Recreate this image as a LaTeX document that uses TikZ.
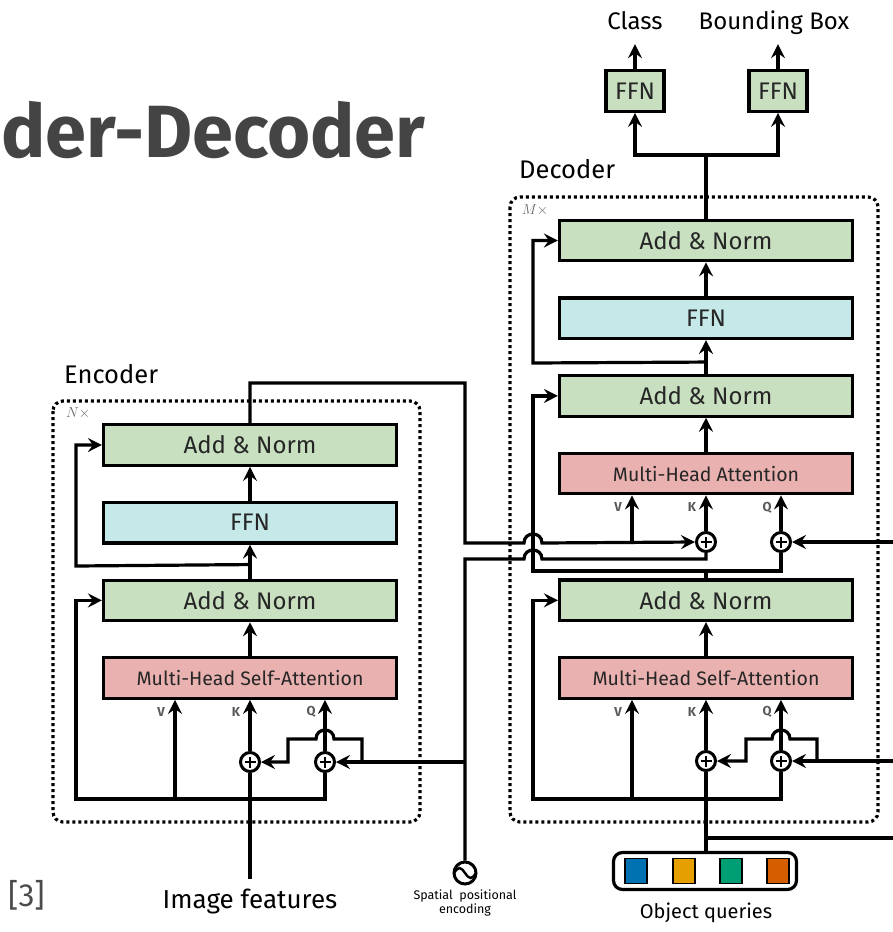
\documentclass[tikz,border=0pt]{standalone}
\usepackage{fontspec}
\setmainfont{Fira Sans}
\usetikzlibrary{arrows.meta, calc, positioning}
\definecolor{normgreen}{RGB}{200,224,192}
\definecolor{ffncyan}{RGB}{197,232,232}
\definecolor{attnpink}{RGB}{233,177,175}
\definecolor{titlegray}{RGB}{68,68,68}
\definecolor{qblue}{RGB}{0,114,178}
\definecolor{qorange}{RGB}{230,159,0}
\definecolor{qgreen}{RGB}{0,158,115}
\definecolor{qred}{RGB}{213,94,0}
\tikzstyle{block} = [rectangle, line width=3.2pt, minimum width=293pt, minimum height=40.5pt, text centered, draw=black, text=black!85, font=\fontsize{24}{28}\selectfont]
\tikzstyle{addnorm} = [block, fill=normgreen]
\tikzstyle{ffn} = [block, fill=ffncyan]
\tikzstyle{attn} = [block, fill=attnpink, font=\fontsize{19.5}{23}\selectfont]
\tikzstyle{head} = [block, fill=normgreen, minimum width=58pt]
\tikzstyle{line} = [line width=3.2pt]
\tikzstyle{arrow} = [line width=3.2pt, -{Stealth[length=14pt, width=14pt, inset=5pt]}]
\tikzstyle{sum} = [circle, draw=black, line width=3pt, fill=white, minimum size=19pt, inner sep=0pt,
  path picture={\draw[line width=2.2pt] ([xshift=-5.5pt]path picture bounding box.center) -- ([xshift=5.5pt]path picture bounding box.center)
    ([yshift=-5.5pt]path picture bounding box.center) -- ([yshift=5.5pt]path picture bounding box.center);}]
\tikzstyle{wave} = [circle, draw=black, line width=3pt, minimum size=22pt, inner sep=0pt,
  path picture={\draw[line width=2.4pt] ([xshift=-11pt]path picture bounding box.center) sin ++(5.5pt,5pt) cos ++(5.5pt,-5pt) sin ++(5.5pt,-5pt) cos ++(5.5pt,5pt);}]
\tikzstyle{stack} = [line width=3.2pt, dash pattern=on 3pt off 3pt, rounded corners=10pt]
\tikzstyle{port} = [font=\fontsize{13}{14}\selectfont\bfseries, text=black!65, inner sep=0pt]
\tikzstyle{times} = [font=\fontsize{15}{17}\selectfont, text=black!60, inner sep=0pt]
\tikzstyle{title} = [font=\fontsize{25.5}{30}\selectfont, inner sep=0pt, anchor=base west]
\tikzstyle{outlabel} = [font=\fontsize{24}{28}\selectfont, inner sep=0pt, text height=17pt, text depth=5pt, anchor=base]
\tikzstyle{query} = [rectangle, draw=black, line width=1.4pt, minimum width=22pt, minimum height=25pt, inner sep=0pt]

\begin{document}
\begin{tikzpicture}[x=1pt, y=-1pt, node distance=34pt]
	\useasboundingbox (0,0) rectangle (893,932);
	\node (Heading) [anchor=base west, inner sep=0pt, text=titlegray, font=\fontsize{74}{82}\selectfont\bfseries] at (1,157) {der-Decoder};
	\node (Cite) [anchor=base west, inner sep=0pt, text=black!70, font=\fontsize{32}{36}\selectfont] at (8,906) {[3]};

	% encoder stack
	\node (EncName) [title] at (64,383) {Encoder};
	\draw [stack] (53,401) rectangle (420,822);
	\node (EncRep) [times] at (78,413) {$N\times$};
	\node (EncAN2) [addnorm] at (250,445) {Add\ \&\ Norm};
	\node (EncFFN) [ffn, below = of EncAN2] {FFN};
	\node (EncAN1) [addnorm, below = of EncFFN] {Add\ \&\ Norm};
	\node (EncMHSA) [attn, below = of EncAN1] {Multi-Head\ Self-Attention};
	\node (EncK) [sum] at (250,762) {};
	\node (EncQ) [sum] at (325,762) {};
	\coordinate (EncVtap) at (175,799);
	\node (EncVlbl) [port] at ($(EncVtap |- EncMHSA.south)+(-14,12)$) {V};
	\node (EncKlbl) [port] at ($(EncK |- EncMHSA.south)+(-14,12)$) {K};
	\node (EncQlbl) [port] at ($(EncQ |- EncMHSA.south)+(-14,12)$) {Q};

	% decoder stack
	\node (DecName) [title] at (519,178) {Decoder};
	\draw [stack] (510,197) rectangle (878,822);
	\node (DecRep) [times] at (535,210) {$M\times$};
	\node (DecAN3) [addnorm] at (706,240.5) {Add\ \&\ Norm};
	\node (DecFFN) [ffn, below = of DecAN3] {FFN};
	\node (DecAN2) [addnorm, below = of DecFFN] {Add\ \&\ Norm};
	\node (DecMHA) [attn, below = of DecAN2] {Multi-Head\ Attention};
	\node (DecAN1) [addnorm, below = 83pt of DecMHA] {Add\ \&\ Norm};
	\node (DecMHSA) [attn, below = of DecAN1] {Multi-Head\ Self-Attention};
	\node (DecK2) [sum] at (706,542) {};
	\node (DecQ2) [sum] at (781,542) {};
	\node (DecK1) [sum] at (706,761) {};
	\node (DecQ1) [sum] at (781,761) {};
	\coordinate (DecVtap2) at (632,543);
	\coordinate (DecVtap1) at (632,799);
	\node (DecVlbl2) [port] at ($(DecVtap2 |- DecMHA.south)+(-14,12)$) {V};
	\node (DecKlbl2) [port] at ($(DecK2 |- DecMHA.south)+(-14,12)$) {K};
	\node (DecQlbl2) [port] at ($(DecQ2 |- DecMHA.south)+(-14,12)$) {Q};
	\node (DecVlbl1) [port] at ($(DecVtap1 |- DecMHSA.south)+(-14,12)$) {V};
	\node (DecKlbl1) [port] at ($(DecK1 |- DecMHSA.south)+(-14,12)$) {K};
	\node (DecQlbl1) [port] at ($(DecQ1 |- DecMHSA.south)+(-14,12)$) {Q};

	% prediction heads
	\node (ClsFFN) [head] at (635,91) {FFN};
	\node (BoxFFN) [head] at (778,91) {FFN};
	\node (ClsLbl) [outlabel] at (635,29) {Class};
	\node (BoxLbl) [outlabel] at (774,29) {Bounding Box};
	\coordinate (DecFork) at (706,155);

	% inputs
	\node (ImgFeat) [outlabel, font=\fontsize{26}{30}\selectfont] at (250,908) {Image features};
	\node (PosEnc) [wave] at (465,873) {};
	\node (PosLbl) [below = 4pt of PosEnc, align=center, inner sep=0pt, font=\fontsize{12.5}{14.5}\selectfont] {Spatial\ \ positional\\encoding};
	\node (ObjQ) [draw, line width=3.2pt, rounded corners=9pt, minimum width=183pt, minimum height=37pt] at (705,871) {};
	\node (ObjQ1) [query, fill=qblue] at (636,871) {};
	\node (ObjQ2) [query, fill=qorange] at (684,871) {};
	\node (ObjQ3) [query, fill=qgreen] at (731,871) {};
	\node (ObjQ4) [query, fill=qred] at (778,871) {};
	\node (ObjLbl) [anchor=base, inner sep=0pt, font=\fontsize{20}{24}\selectfont] at (706,918) {Object\ queries};
	\coordinate (QueryIn2) at (893,542);
	\coordinate (QueryIn1) at (893,761);
	\coordinate (QueryOut) at (893,838);

	% encoder wiring
	\draw [line, shorten <=12pt] (ImgFeat.north) -- (EncK.south);
	\draw [arrow] (EncK) -- (EncK |- EncMHSA.south);
	\draw [arrow] (EncQ) -- (EncQ |- EncMHSA.south);
	\draw [arrow] (EncVtap) -- (EncVtap |- EncMHSA.south);
	\draw [arrow] (EncQ.south) |- (76,799) |- (EncAN1.west);
	\draw [arrow] (362,762) -- (362,739) -- (334,739) .. controls (334,727) and (316,727) .. (316,739) -- (288,739) -- (288,762) -- (EncK);
	\draw [arrow] (EncMHSA) -- (EncAN1);
	\draw [arrow] (EncAN1) -- (EncFFN);
	\draw [arrow] ($(EncAN1.north)+(0,-14)$) -- (76,566) |- (EncAN2.west);
	\draw [arrow] (EncFFN) -- (EncAN2);

	% encoder memory and positional encoding into the decoder
	\draw [arrow] (EncAN2.north) |- (465,383) -- (465,543) -- (524,543) .. controls (524,531) and (542,531) .. (542,543) -- (DecK2.west);
	\draw [arrow] (DecVtap2) -- (DecVtap2 |- DecMHA.south);
	\draw [line] (PosEnc.north) -- (465,559) -- (524,559) .. controls (524,547) and (542,547) .. (542,559) -| (DecK2.south);
	\draw [arrow] (465,762) -- (EncQ.east);

	% decoder wiring
	\draw [line] (DecK1 |- ObjQ.north) -- (DecK1.south);
	\draw [line] (DecK1 |- QueryOut) -- (QueryOut);
	\draw [arrow] (QueryIn1) -- (DecQ1);
	\draw [arrow] (817,761) -- (817,739) -- (790,739) .. controls (790,727) and (772,727) .. (772,739) -- (746,739) -- (746,761) -- (DecK1);
	\draw [arrow] (DecK1) -- (DecK1 |- DecMHSA.south);
	\draw [arrow] (DecQ1) -- (DecQ1 |- DecMHSA.south);
	\draw [arrow] (DecVtap1) -- (DecVtap1 |- DecMHSA.south);
	\draw [arrow] (DecQ1.south) |- (533,799) |- (DecAN1.west);
	\draw [arrow] (DecMHSA) -- (DecAN1);
	\draw [line] (DecAN1.north) -- ++(0,-9);
	\draw [arrow] (DecQ2.south) |- (533,571) |- (DecAN2.west);
	\draw [arrow] (QueryIn2) -- (DecQ2);
	\draw [arrow] (DecK2) -- (DecK2 |- DecMHA.south);
	\draw [arrow] (DecQ2) -- (DecQ2 |- DecMHA.south);
	\draw [arrow] (DecMHA) -- (DecAN2);
	\draw [arrow] (DecAN2) -- (DecFFN);
	\draw [arrow] ($(DecAN2.north)+(0,-12)$) -- (533,363) |- (DecAN3.west);
	\draw [arrow] (DecFFN) -- (DecAN3);

	% heads
	\draw [line] (DecAN3.north) -- (DecFork);
	\draw [arrow] (DecFork) -| (ClsFFN.south);
	\draw [arrow] (DecFork) -| (BoxFFN.south);
	\draw [arrow, shorten >=10pt] (ClsFFN) -- (ClsLbl);
	\draw [arrow, shorten >=10pt] (BoxFFN) -- (BoxLbl.south -| BoxFFN);
\end{tikzpicture}
\end{document}
